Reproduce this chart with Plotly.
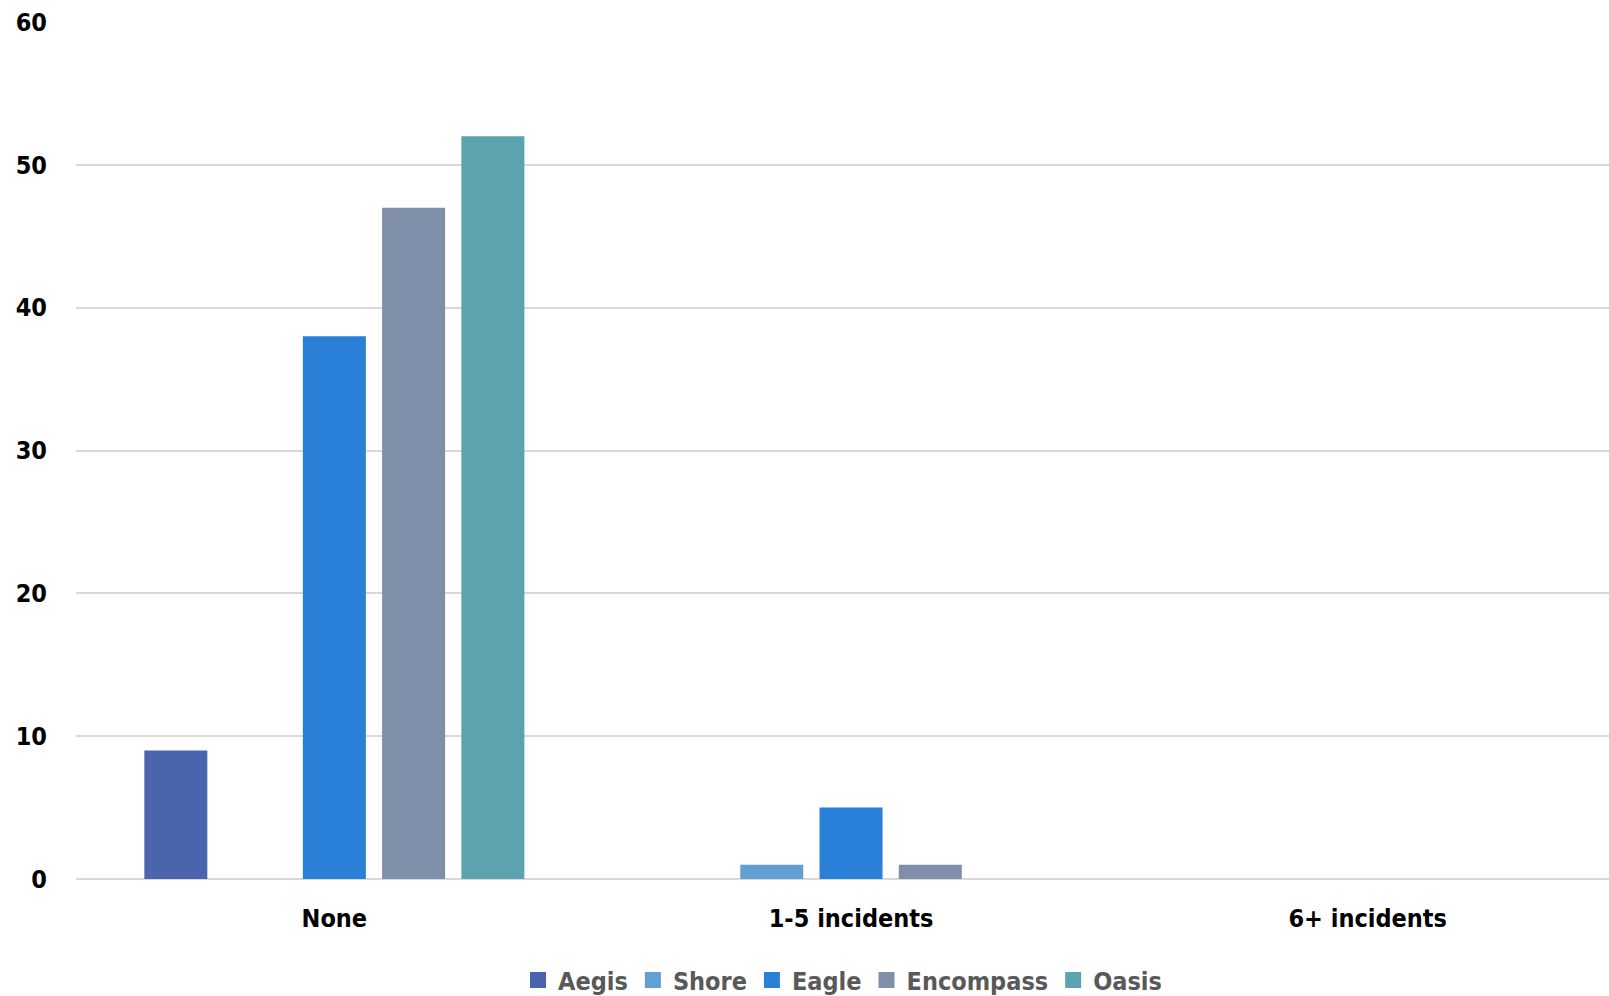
import plotly.graph_objects as go

categories = ["None", "1-5 incidents", "6+ incidents"]
series_names = ["Aegis", "Shore", "Eagle", "Encompass", "Oasis"]
aegis = [9, 0, 0]
shore = [0, 1, 0]
eagle = [38, 5, 0]
encompass = [47, 1, 0]
oasis = [52, 0, 0]
y_ticks = [0, 10, 20, 30, 40, 50, 60]

colors = ["#4a65ae", "#629fd3", "#2a7fd9", "#7f8fa9", "#5ba3ae"]
values = [aegis, shore, eagle, encompass, oasis]

FONT = "DejaVu Sans Condensed, sans-serif"

fig = go.Figure()
for name, vals, col in zip(series_names, values, colors):
    fig.add_trace(go.Bar(
        x=categories, y=vals, name=name, showlegend=False,
        marker=dict(color=col, line=dict(width=0)),
    ))
# legend entries with larger square swatches
for name, col in zip(series_names, colors):
    fig.add_trace(go.Scatter(
        x=[None], y=[None], mode="markers", name=name,
        marker=dict(symbol="square", color=col, size=16),
    ))

fig.update_layout(
    width=1609, height=996,
    margin=dict(l=76, r=0, t=22, b=117, autoexpand=False),
    paper_bgcolor="white", plot_bgcolor="white",
    barmode="group", bargap=0.233, bargroupgap=0.205,
    font=dict(family=FONT, size=25, color="black"),
    showlegend=True,
    legend=dict(
        orientation="h", x=0.5, xanchor="center", y=-0.118, yanchor="middle",
        font=dict(family=FONT, size=25, color="#595959", weight="bold"),
        itemwidth=30, traceorder="normal", itemsizing="trace",
    ),
    xaxis=dict(
        range=[-0.5, 2.467], automargin=False,
        showgrid=False, showline=False, ticks="", ticklabelstandoff=22,
        tickfont=dict(family=FONT, size=25, color="black", weight="bold"),
    ),
    yaxis=dict(
        range=[0, 60], tickvals=y_ticks, automargin=False,
        showgrid=True, gridcolor="#d9d9d9", gridwidth=1.5,
        zeroline=True, zerolinecolor="#d9d9d9", zerolinewidth=1.5,
        showline=False, ticks="", ticklabelstandoff=28,
        tickfont=dict(family=FONT, size=25, color="black", weight="bold"),
    ),
)

fig.write_html("out.html")
